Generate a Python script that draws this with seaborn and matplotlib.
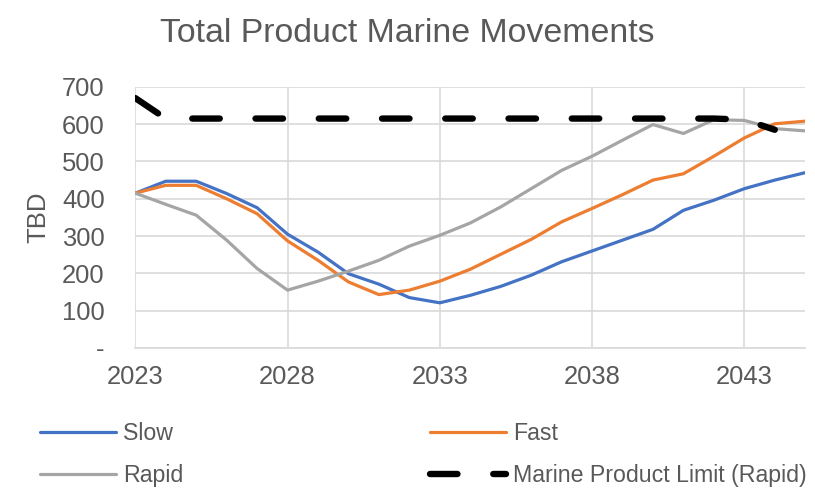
import numpy as np
import pandas as pd
import seaborn as sns
import matplotlib.pyplot as plt
from matplotlib.ticker import FuncFormatter, MultipleLocator

years = list(range(2023, 2046))
slow = [415, 447, 447, 414, 376, 305, 257, 199, 171, 135, 121, 141, 165, 195,
        231, 260, 289, 318, 369, 396, 427, 450, 470]
fast = [415, 436, 436, 400, 360, 287, 235, 177, 143, 155, 179, 211, 251, 291,
        338, 374, 411, 450, 467, 514, 563, 601, 608]
rapid = [415, 385, 356, 289, 213, 155, 179, 206, 235, 273, 302, 335, 378, 427,
         476, 514, 557, 599, 575, 612, 610, 588, 582]
limit_years = list(range(2023, 2045))
limit = [670, 615, 615, 615, 615, 615, 615, 615, 615, 615, 615, 615, 615, 615,
         615, 615, 615, 615, 615, 615, 612, 585]

x_ticks = [2023, 2028, 2033, 2038, 2043]

df = pd.DataFrame({"Year": years, "Slow": slow, "Fast": fast, "Rapid": rapid})
df_lim = pd.DataFrame({"Year": limit_years, "Limit": limit})

sns.set_theme(style="white")
plt.rcParams['font.family'] = ['Liberation Sans', 'DejaVu Sans']
txt = "#595959"
grid = "#d9d9d9"

fig = plt.figure(figsize=(8.15, 4.88), dpi=100)
ax = fig.add_axes([0.166, 0.287, 0.822, 0.535])

sns.lineplot(data=df, x="Year", y="Slow", ax=ax, color="#4472C4", lw=2.3, label="Slow")
sns.lineplot(data=df, x="Year", y="Fast", ax=ax, color="#ED7D31", lw=2.3, label="Fast")
sns.lineplot(data=df, x="Year", y="Rapid", ax=ax, color="#A5A5A5", lw=2.3, label="Rapid")
sns.lineplot(data=df_lim, x="Year", y="Limit", ax=ax, color="black", lw=4.6,
             label="Marine Product Limit (Rapid)")
lim_line = ax.lines[-1]
lim_line.set_linestyle((0, (4.3, 5.6)))
lim_line.set_dash_capstyle("round")
lim_line.set_solid_capstyle("round")

ax.set_xlim(2023, 2045)
ax.set_ylim(0, 700)
ax.set_xticks(x_ticks)
ax.yaxis.set_major_locator(MultipleLocator(100))
ax.yaxis.set_major_formatter(FuncFormatter(lambda v, p: "-" if v == 0 else f"{int(v)}"))
ax.grid(True, color=grid, lw=1.2)
ax.set_axisbelow(True)
for s in ["top", "right", "left"]:
    ax.spines[s].set_visible(False)
ax.spines["bottom"].set_color(grid)
ax.spines["bottom"].set_linewidth(1.2)
ax.tick_params(axis="y", length=0, pad=22, labelsize=18.4, labelcolor=txt)
ax.tick_params(axis="x", length=0, pad=12, labelsize=18.4, labelcolor=txt)
ax.set_xlabel("")
ax.set_ylabel("TBD", fontsize=18.5, color=txt, labelpad=8)

fig.text(0.5, 1 - 33 / 488, "Total Product Marine Movements", ha="center", va="center",
         fontsize=24.4, color=txt)

handles, labels = ax.get_legend_handles_labels()
ax.get_legend().remove()
order = [0, 2, 1, 3]
fig.legend([handles[i] for i in order], [labels[i] for i in order], ncol=2,
           loc="upper left", bbox_to_anchor=(0.049, 0.135),
           frameon=False, fontsize=16.7, labelcolor=txt, handlelength=3.3,
           handletextpad=0.3, columnspacing=10.6, labelspacing=0.8,
           borderaxespad=0, borderpad=0)

fig.savefig("out.png", dpi=100)
